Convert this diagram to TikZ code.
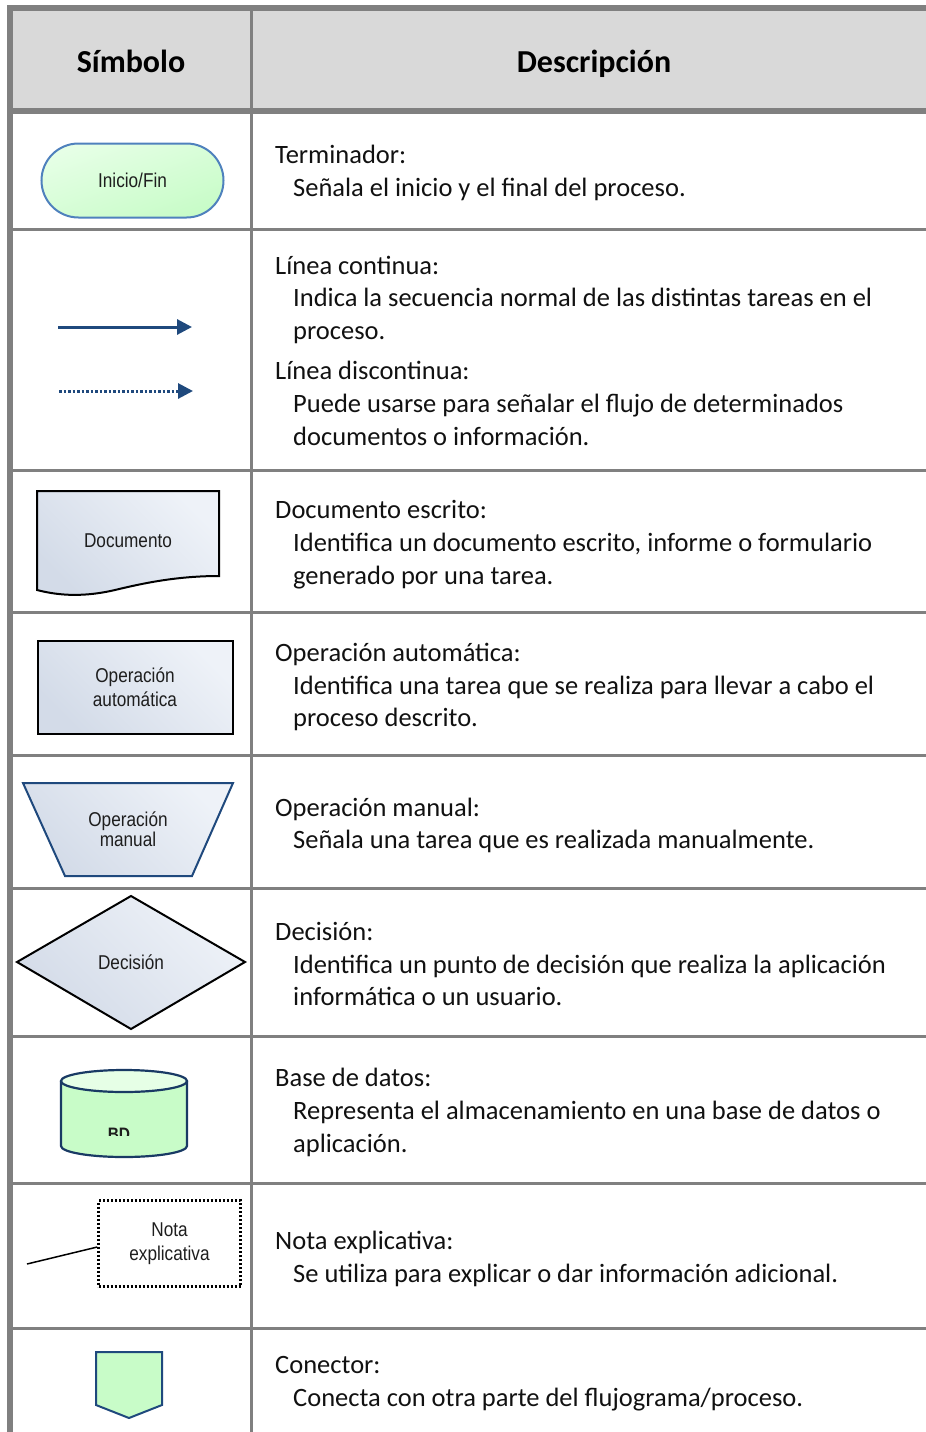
\documentclass[tikz,border=0pt]{standalone}
\usepackage{fontspec}
\setmainfont{Carlito}
\newfontfamily\arialf[FakeStretch=0.86]{Liberation Sans}
\usetikzlibrary{arrows.meta}
\definecolor{gridc}{HTML}{808080}
\definecolor{hdrc}{HTML}{D9D9D9}
\definecolor{navy}{HTML}{1F497D}
\definecolor{steel}{HTML}{4F81BD}
\definecolor{greenA}{HTML}{C8FCC8}
\definecolor{greenB}{HTML}{E6FFE6}
\definecolor{blueA}{HTML}{D3DBE8}
\definecolor{blueB}{HTML}{EEF2F8}
\definecolor{labelc}{HTML}{1E1E1E}
\definecolor{textc}{HTML}{111111}
\tikzset{
  outer/.style={draw=gridc, line width=6pt},
  inner/.style={draw=gridc, line width=3pt},
  desc/.style={anchor=base west, inner sep=0pt, text=textc, font=\fontsize{26.5}{30}\selectfont},
  hdrtext/.style={anchor=base, inner sep=0pt, font=\bfseries\fontsize{32}{36}\selectfont},
  lbl/.style={inner sep=0pt, align=center, text=labelc, font=\arialf\fontsize{20}{24.5}\selectfont},
  greenfill/.style={top color=greenA, bottom color=greenB, shading angle=200},
  bluefill/.style={left color=blueA, right color=blueB, shading angle=135},
  flowarrow/.style={draw=navy, line width=3pt, -{Triangle[length=15pt,width=15pt]}},
}
\begin{document}
\begin{tikzpicture}[x=1pt,y=-1pt]
\useasboundingbox (0,0) rectangle (926,1432);
% header
\fill[hdrc] (10,8) rectangle (926,111);
% grid
\path[inner] (251.5,8) -- (251.5,1432);
\foreach \yy in {229.5,470.5,612,755.5,888,1036,1183,1328.5}
  \path[inner] (10,\yy) -- (926,\yy);
\path[outer] (7,8) -- (926,8);
\path[outer] (10,111) -- (926,111);
\path[outer] (10,5) -- (10,1432);
\node[hdrtext] (hsym) at (131,72) {Símbolo};
\node[hdrtext] (hdesc) at (594,72) {Descripción};

% 1 terminator
\node[draw=steel, line width=2pt, greenfill, rounded corners=37pt,
      minimum width=182pt, minimum height=74pt, lbl] (term) at (132.5,180.5) {Inicio/Fin};

% 2 arrows
\coordinate (a1s) at (58,327);
\coordinate (a1e) at (192,327);
\coordinate (a2s) at (59,391);
\coordinate (a2e) at (193,391);
\draw[flowarrow] (a1s) -- (a1e);
\draw[flowarrow, dash pattern=on 2.5pt off 2pt] (a2s) -- (a2e);

% 3 document
\path[draw=black, line width=2pt, bluefill]
  (37,491) -- (219,491) -- (219,576)
  .. controls (175,576) and (140,584) .. (115,590)
  .. controls (85,597) and (60,596) .. (37,590) -- cycle;
\node[lbl] (doc) at (128,541) {Documento};

% 4 automatic operation
\node[draw=black, line width=2pt, bluefill, minimum width=195pt, minimum height=93pt, lbl]
  (auto) at (135,687) {Operación\\automática};

% 5 manual operation
\path[draw=navy, line width=2pt, bluefill]
  (23,783) -- (233,783) -- (192,876) -- (65,876) -- cycle;
\node[lbl, font=\arialf\fontsize{20}{20}\selectfont] (man) at (128,829) {Operación\\manual};

% 6 decision
\path[draw=black, line width=2pt, bluefill]
  (17,962) -- (131,896) -- (245,962) -- (131,1029) -- cycle;
\node[lbl] (dec) at (131,962) {Decisión};

% 7 database
\path[draw=navy!80!black, line width=2.2pt, fill=greenA]
  (61,1081) -- (61,1146) arc[start angle=180, end angle=360, x radius=63, y radius=-11]
  -- (187,1081);
\path[draw=navy!80!black, line width=2.2pt, fill=greenB]
  (124,1081) ellipse[x radius=63, y radius=11];
\begin{scope}
\clip (60,1100) rectangle (190,1135.5);
\node[anchor=base, inner sep=0pt, text=labelc, font=\bfseries\arialf\fontsize{18}{20}\selectfont] (bd) at (119,1140) {BD};
\end{scope}

% 8 note
\node[draw=black, line width=2.4pt, dash pattern=on 2pt off 2pt, minimum width=142pt, minimum height=86pt, lbl]
  (note) at (169.5,1243.5) {Nota\\explicativa};
\coordinate (nl) at (27,1264);
\draw[line width=1.5pt] (nl) -- ([yshift=-3.5pt]note.west);

% 9 connector
\path[draw=navy, line width=2pt, fill=greenA]
  (96,1352) -- (162,1352) -- (162,1405) -- (129,1418) -- (96,1405) -- cycle;
\coordinate (conn) at (129,1385);

% descriptions
\node[desc] (d1a) at (275,163) {Terminador:};
\node[desc] (d1b) at (293,196) {Señala el inicio y el final del proceso.};
\node[desc] (d2a) at (275,274) {Línea continua:};
\node[desc] (d2b) at (293,306) {Indica la secuencia normal de las distintas tareas en el};
\node[desc] (d2c) at (293,339) {proceso.};
\node[desc] (d2d) at (275,379) {Línea discontinua:};
\node[desc] (d2e) at (293,412) {Puede usarse para señalar el flujo de determinados};
\node[desc] (d2f) at (293,445) {documentos o información.};
\node[desc] (d3a) at (275,518) {Documento escrito:};
\node[desc] (d3b) at (293,551) {Identifica un documento escrito, informe o formulario};
\node[desc] (d3c) at (293,584) {generado por una tarea.};
\node[desc] (d4a) at (275,661) {Operación automática:};
\node[desc] (d4b) at (293,694) {Identifica una tarea que se realiza para llevar a cabo el};
\node[desc] (d4c) at (293,726) {proceso descrito.};
\node[desc] (d5a) at (275,816) {Operación manual:};
\node[desc] (d5b) at (293,848) {Señala una tarea que es realizada manualmente.};
\node[desc] (d6a) at (275,940) {Decisión:};
\node[desc] (d6b) at (293,973) {Identifica un punto de decisión que realiza la aplicación};
\node[desc] (d6c) at (293,1005) {informática o un usuario.};
\node[desc] (d7a) at (275,1086) {Base de datos:};
\node[desc] (d7b) at (293,1119) {Representa el almacenamiento en una base de datos o};
\node[desc] (d7c) at (293,1152) {aplicación.};
\node[desc] (d8a) at (275,1249) {Nota explicativa:};
\node[desc] (d8b) at (293,1282) {Se utiliza para explicar o dar información adicional.};
\node[desc] (d9a) at (275,1373) {Conector:};
\node[desc] (d9b) at (293,1406) {Conecta con otra parte del flujograma/proceso.};
\end{tikzpicture}
\end{document}
